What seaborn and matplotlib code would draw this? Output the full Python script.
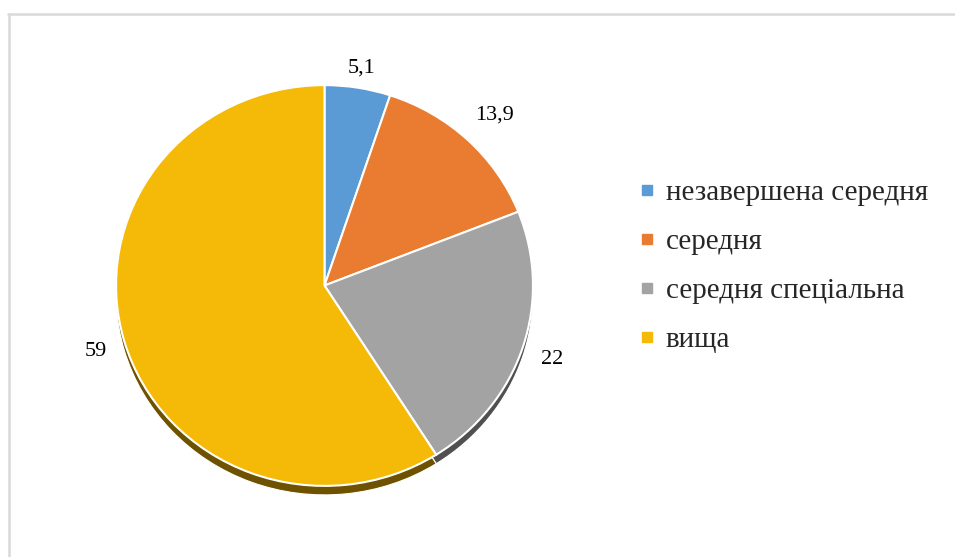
import matplotlib
matplotlib.use("Agg")
import numpy as np
import matplotlib.pyplot as plt
import seaborn as sns
from matplotlib.lines import Line2D

categories = ["незавершена середня", "середня", "середня спеціальна", "вища"]
values = [5.1, 13.9, 22, 59]
value_labels = ["5,1", "13,9", "22", "59"]
colors = ["#5B9BD5", "#E97C30", "#A3A3A3", "#F5BA08"]
shadow_colors = ["#2E5A85", "#8A4515", "#505050", "#6E5200"]
label_dist = [1.11, 1.19, 1.15, 1.14]

sns.set_theme(style="white")
plt.rcParams["font.family"] = ["Liberation Serif", "DejaVu Serif"]

fig = plt.figure(figsize=(9.55, 5.57), dpi=100)
# slightly tilted (elliptical) pie, like the 3D-style original
ax = fig.add_axes([53.5 / 955, 11 / 557, 542 / 955, 521 / 557])

# shadow pie
sh, _ = ax.pie(values, startangle=90, counterclock=False, colors=shadow_colors,
               center=(0, -0.045), radius=1.0,
               wedgeprops=dict(edgecolor="white", linewidth=0.8))
for w in sh:
    w.set_zorder(0)

wedges, _ = ax.pie(values, startangle=90, counterclock=False, colors=colors,
                   wedgeprops=dict(edgecolor="white", linewidth=1.5))
for w in wedges:
    w.set_zorder(2)

for w, lab, d in zip(wedges, value_labels, label_dist):
    ang = np.deg2rad((w.theta1 + w.theta2) / 2)
    ax.text(d * np.cos(ang), d * np.sin(ang), lab, ha="center",
            va="center_baseline", fontsize=16, color="black")

ax.set_xlim(-1.3, 1.3)
ax.set_ylim(-1.3, 1.3)
ax.set_aspect("auto")
ax.axis("off")

handles = [Line2D([0], [0], marker="s", linestyle="", markersize=6.5,
                  markerfacecolor=c, markeredgecolor=c) for c in colors]
fig.legend(handles, categories, loc="upper left",
           bbox_to_anchor=(641 / 955, 1 - 179.5 / 557),
           frameon=False, fontsize=21, handlelength=0.4, handletextpad=0.45,
           labelspacing=0.78, borderpad=0, borderaxespad=0)

# chart-area border (top and left visible)
fig.add_artist(Line2D([8 / 955, 1.0], [1 - 14 / 557, 1 - 14 / 557],
                      transform=fig.transFigure, color="#D9D9D9", linewidth=1.8))
fig.add_artist(Line2D([9 / 955, 9 / 955], [0, 1 - 14 / 557],
                      transform=fig.transFigure, color="#D9D9D9", linewidth=1.8))

fig.savefig("out.png", dpi=100, facecolor="white")
